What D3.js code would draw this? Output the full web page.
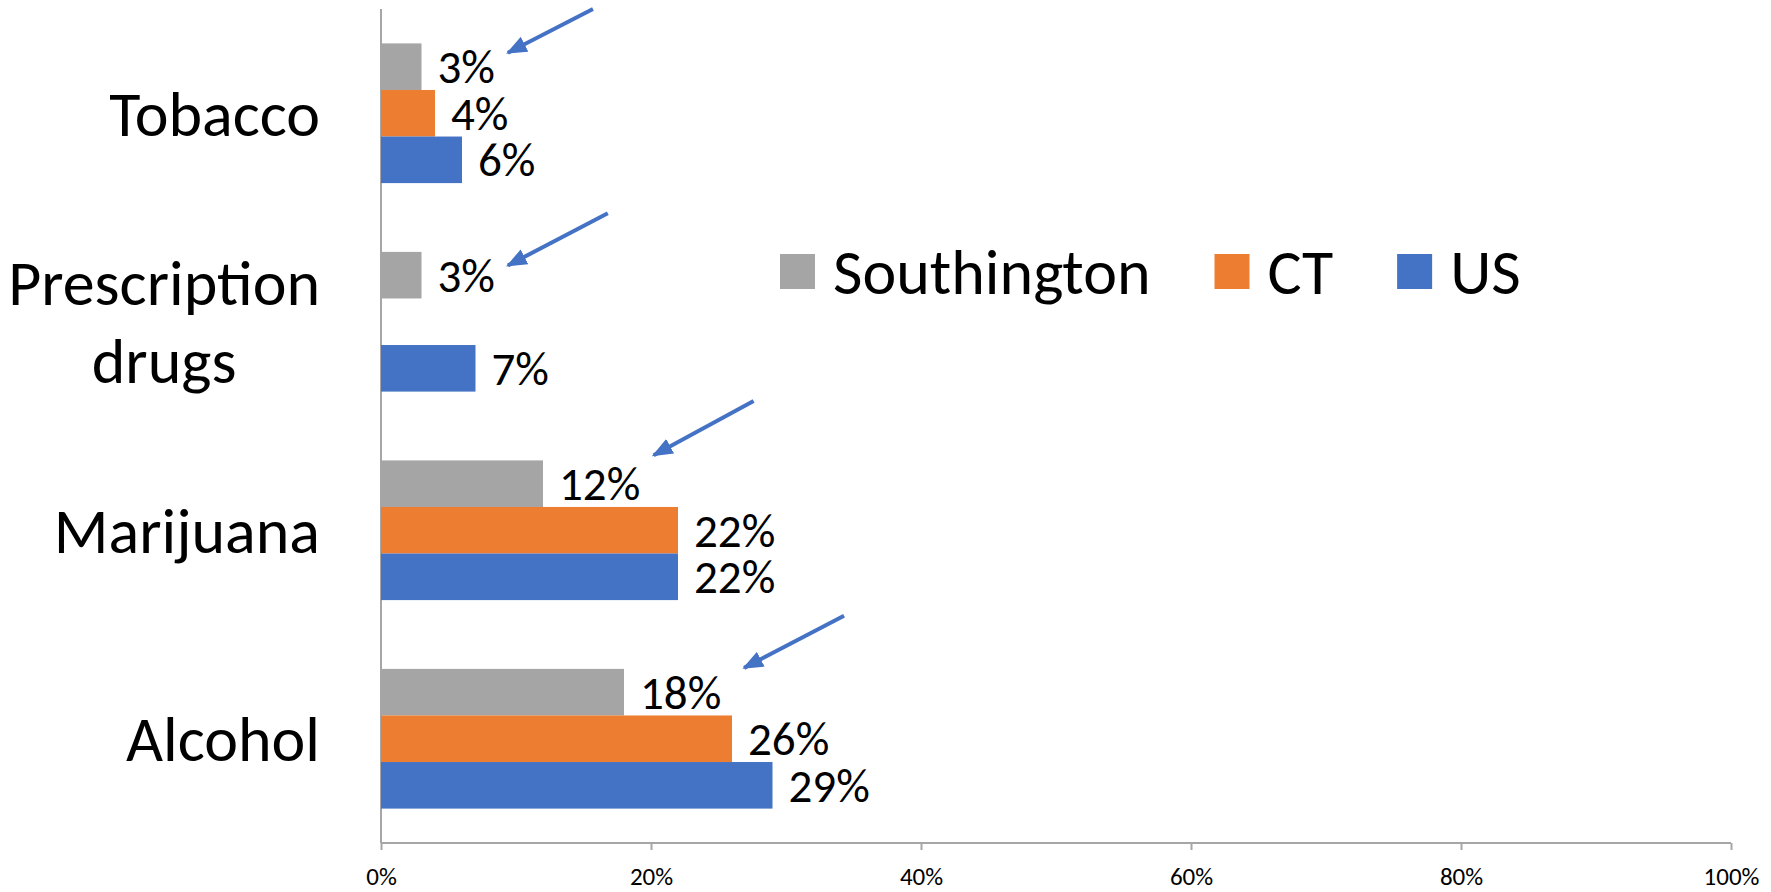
<!DOCTYPE html>
<html>
<head>
<meta charset="utf-8">
<script src="https://cdn.jsdelivr.net/npm/d3@7"></script>
<style>
  body { margin: 0; background: #fff; }
  text { font-family: Carlito, Calibri, Lato, sans-serif; fill: #000; }
</style>
</head>
<body>
<div id="chart"></div>
<script>
var svgWidth = 1771;
var svgHeight = 892;

// data
var categories = ["Tobacco", "Prescription drugs", "Marijuana", "Alcohol"];
var series = ["Southington", "CT", "US"];
var southington = [3, 3, 12, 18];
var ct = [4, null, 22, 26];
var us = [6, 7, 22, 29];
var seriesColors = ["#a5a5a5", "#ed7d31", "#4472c4"];
var xTicks = [0, 20, 40, 60, 80, 100];

// hand-drawn arrows pointing at the Southington labels (x in %, y as share of the category step)
var arrowTipX = [9.4, 9.4, 20.2, 26.9];
var arrowTailX = [15.7, 16.8, 27.6, 34.3];
var arrowTipY = [0.21, 0.23, 0.14, 0.16];
var arrowTailY = [0.0, -0.02, -0.12, -0.09];

var plot = { left: 381, right: 1731, top: 9, bottom: 843 };

var svg = d3.select("#chart")
  .append("svg")
  .attr("width", svgWidth)
  .attr("height", svgHeight);

var rows = categories.map(function(c, i) {
  return { cat: c, values: [southington[i], ct[i], us[i]] };
});

// scales
var xScale = d3.scaleLinear()
  .domain([0, 100])
  .range([plot.left, plot.right]);

var yScale = d3.scaleBand()
  .domain(categories)
  .range([plot.top, plot.bottom])
  .paddingInner(0.33)
  .paddingOuter(0.165);

var ySub = d3.scaleBand()
  .domain(series)
  .range([0, yScale.bandwidth()]);

var step = yScale.step();
var bandStart = function(c) { return yScale(c) - yScale.paddingOuter() * step; };

// axes
var xAxis = d3.axisBottom(xScale)
  .tickValues(xTicks)
  .tickSize(7)
  .tickFormat(function(d) { return d + "%"; });

var gx = svg.append("g")
  .attr("transform", "translate(0," + plot.bottom + ")")
  .call(xAxis);
gx.select(".domain").attr("stroke", "#a6a6a6").attr("stroke-width", 2)
  .attr("d", "M" + plot.left + ",0H" + plot.right);
gx.selectAll(".tick line").attr("stroke", "#a6a6a6").attr("stroke-width", 2);
gx.selectAll(".tick text")
  .attr("y", 33)
  .attr("dy", "0.35em")
  .style("font-family", "Carlito, Calibri, Lato, sans-serif")
  .style("font-size", "25px")
  .attr("fill", "#000");

// vertical category axis line
svg.append("line")
  .attr("x1", plot.left).attr("x2", plot.left)
  .attr("y1", plot.top).attr("y2", plot.bottom)
  .attr("stroke", "#a6a6a6")
  .attr("stroke-width", 2);

// category labels
var catLabels = svg.append("g").selectAll("text")
  .data(categories)
  .enter()
  .append("text")
  .attr("text-anchor", "middle")
  .style("font-size", "64px");

catLabels.each(function(c) {
  var t = d3.select(this);
  var words = c === "Prescription drugs" ? ["Prescription", "drugs"] : [c];
  var cy = yScale(c) + yScale.bandwidth() / 2;
  var lh = 78;
  words.forEach(function(w, i) {
    t.append("tspan")
      .attr("x", 0)
      .attr("y", cy + (i - (words.length - 1) / 2) * lh)
      .attr("dy", "0.35em")
      .text(w);
  });
});
// right-align the block, lines centred on each other
catLabels.each(function() {
  var bb = this.getBBox();
  var cx = plot.left - 61 - bb.width / 2;
  d3.select(this).selectAll("tspan").attr("x", cx);
});

// bars
var groups = svg.append("g").selectAll("g")
  .data(rows)
  .enter()
  .append("g")
  .attr("transform", function(d) { return "translate(0," + yScale(d.cat) + ")"; });

var present = function(d) {
  return d.values.map(function(v, i) { return { s: series[i], v: v, i: i }; })
    .filter(function(e) { return e.v !== null; });
};

groups.selectAll("rect")
  .data(present)
  .enter()
  .append("rect")
  .attr("x", xScale(0))
  .attr("y", function(d) { return ySub(d.s); })
  .attr("width", function(d) { return xScale(d.v) - xScale(0); })
  .attr("height", ySub.bandwidth())
  .attr("fill", function(d) { return seriesColors[d.i]; });

groups.selectAll("text.val")
  .data(present)
  .enter()
  .append("text")
  .attr("class", "val")
  .attr("x", function(d) { return xScale(d.v) + 16; })
  .attr("y", function(d) { return ySub(d.s) + ySub.bandwidth() / 2; })
  .attr("dy", "0.35em")
  .style("font-size", "47px")
  .text(function(d) { return d.v + "%"; });

// arrows
var defs = svg.append("defs");
defs.append("marker")
  .attr("id", "head")
  .attr("viewBox", "0 0 10 8")
  .attr("refX", 9)
  .attr("refY", 4)
  .attr("markerWidth", 5.2)
  .attr("markerHeight", 4.2)
  .attr("markerUnits", "strokeWidth")
  .attr("orient", "auto")
  .append("path")
  .attr("d", "M0,0L10,4L0,8Z")
  .attr("fill", "#4472c4");

svg.append("g").selectAll("line")
  .data(categories)
  .enter()
  .append("line")
  .attr("x1", function(c, i) { return xScale(arrowTailX[i]); })
  .attr("y1", function(c, i) { return bandStart(c) + arrowTailY[i] * step; })
  .attr("x2", function(c, i) { return xScale(arrowTipX[i]); })
  .attr("y2", function(c, i) { return bandStart(c) + arrowTipY[i] * step; })
  .attr("stroke", "#4472c4")
  .attr("stroke-width", 4)
  .attr("marker-end", "url(#head)");

// legend
var legend = svg.append("g").attr("transform", "translate(780,271.5)");
var lx = 0;
series.forEach(function(s, i) {
  var item = legend.append("g").attr("transform", "translate(" + lx + ",0)");
  item.append("rect")
    .attr("x", 0).attr("y", -17.5)
    .attr("width", 35).attr("height", 35)
    .attr("fill", seriesColors[i]);
  var t = item.append("text")
    .attr("x", 53)
    .attr("dy", "0.35em")
    .style("font-size", "64px")
    .text(s);
  lx += 53 + t.node().getComputedTextLength() + 64;
});
</script>
</body>
</html>
